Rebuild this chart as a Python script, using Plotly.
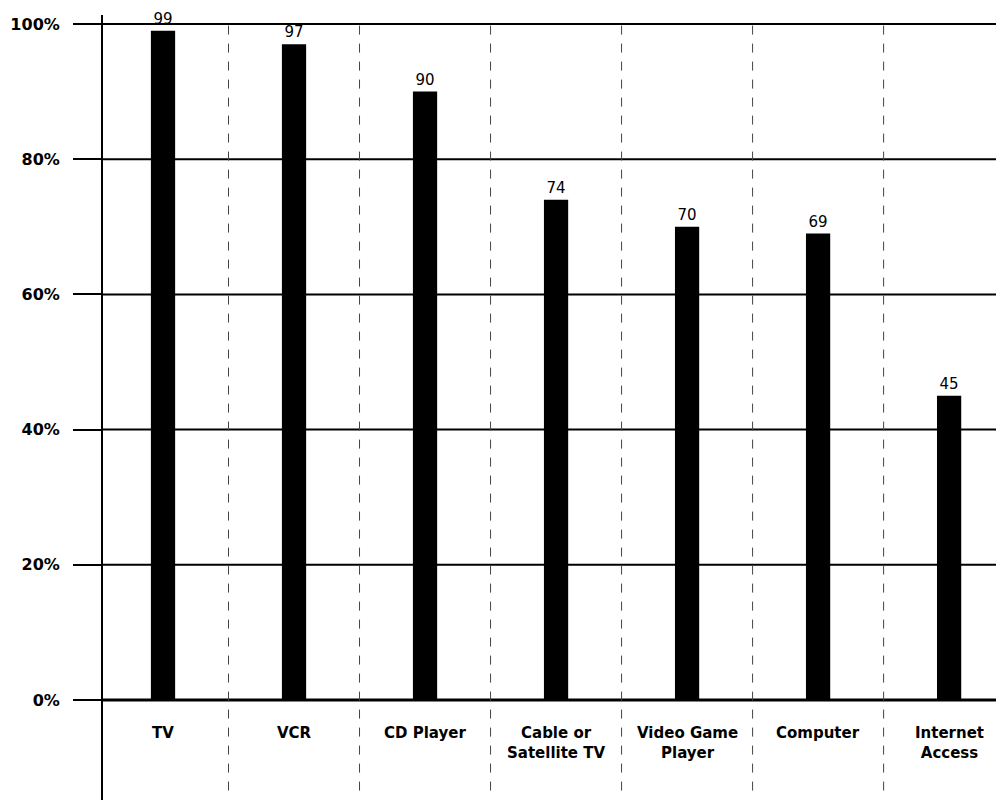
import plotly.graph_objects as go

categories = ["TV", "VCR", "CD Player", "Cable or<br>Satellite TV", "Video Game<br>Player", "Computer", "Internet<br>Access"]
values = [99, 97, 90, 74, 70, 69, 45]
y_ticks = [0, 20, 40, 60, 80, 100]
y_tick_labels = ["0%", "20%", "40%", "60%", "80%", "100%"]

n = len(categories)
xs = list(range(n))

fig = go.Figure()
fig.add_trace(go.Bar(
    x=xs, y=values, width=0.185,
    marker=dict(color="black", line=dict(width=0)),
    text=[str(v) for v in values], textposition="outside",
    textfont=dict(family="DejaVu Sans", size=15, color="black"),
    cliponaxis=False,
))

shapes = []
# horizontal gridlines (extend to right edge)
for t in y_ticks:
    shapes.append(dict(type="line", xref="paper", yref="y", x0=0, x1=1, y0=t, y1=t,
                       line=dict(color="black", width=3 if t == 0 else 2), layer="below"))
# dashed dividers between categories
for i in range(n - 1):
    shapes.append(dict(type="line", xref="x", yref="paper", x0=i + 0.5, x1=i + 0.5, y0=0.012, y1=0.995,
                       line=dict(color="#444", width=1, dash="dash"), layer="below"))

annotations = []
for i, c in enumerate(categories):
    annotations.append(dict(x=i, y=-3.3, xref="x", yref="y", text=c, showarrow=False,
                            yanchor="top", xanchor="center", align="center",
                            font=dict(family="DejaVu Sans", size=15, color="black", weight="bold")))

fig.update_layout(
    width=1004, height=804,
    margin=dict(l=95, r=0, t=7, b=12),
    paper_bgcolor="white", plot_bgcolor="white",
    showlegend=False,
    shapes=shapes, annotations=annotations,
    xaxis=dict(range=[-0.458, 6.48], showgrid=False, zeroline=False, showticklabels=False,
               ticks="", showline=False),
    yaxis=dict(range=[-14.8, 101.33], tickvals=y_ticks, ticktext=y_tick_labels,
               showgrid=False, zeroline=False, showline=True, linecolor="black", linewidth=2,
               ticks="outside", ticklen=28, tickwidth=2, tickcolor="black",
               ticklabelstandoff=10,
               tickfont=dict(family="DejaVu Sans", size=16, color="black", weight="bold")),
)

fig.write_html("out.html")
